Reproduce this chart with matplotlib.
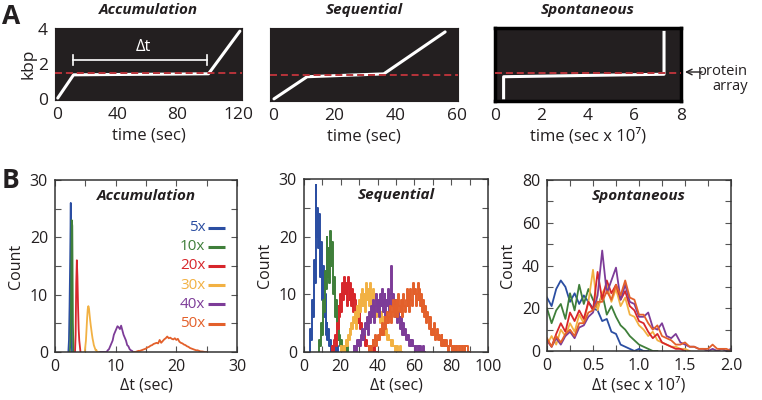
import numpy as np
import matplotlib
matplotlib.use('Agg')
import matplotlib.pyplot as plt
from matplotlib.ticker import MultipleLocator

plt.rcParams['font.family'] = ['Open Sans', 'DejaVu Sans']

# ---------------- Panel A: example traces ----------------
acc_t = [0.5, 11.0, 100.5, 121.3]
acc_k = [0.05, 1.38, 1.44, 3.88]
acc_protein = 1.50
acc_dt = [10.4, 99.8]

seq_t = [0.3, 11.1, 36.1, 56.1]
seq_k = [0.06, 1.31, 1.47, 3.84]
seq_protein = 1.40

spo_t = [0.37, 0.37, 7.27, 7.27]
spo_k = [0.03, 1.31, 1.45, 3.90]
spo_protein = 1.53

# ---------------- Panel B: histograms ----------------
labels = ['5x', '10x', '20x', '30x', '40x', '50x']
colors = ['#2b4ea2', '#3f7f3a', '#d7262b', '#f2b143', '#7d3c98', '#e3602b']

# Accumulation (start, step, counts)
acc_start = [2.2, 2.45, 3.3, 4.9, 7.5, 13.0]
acc_step = [0.1, 0.1, 0.1, 0.1, 0.2, 0.25]
acc_5x = [0, 2, 8, 16, 26, 7, 0]
acc_10x = [0, 2, 9, 23, 22, 5, 0]
acc_20x = [0, 3, 12, 16, 13, 8, 4, 2, 1, 0]
acc_30x = [0, 1, 2, 4, 6, 7.5, 8, 7.6, 6.5, 5.5, 4.6, 3.8, 3, 2.3, 1.8, 1.2, 0.9, 0.6, 0.3, 0.4, 0.1, 0, 0, 0, 0]
acc_40x = [0, 0, 0, 0, 0, 0, 0.3, 0.5, 1, 1.5, 2, 3, 3.5, 4, 4.5, 4.3, 4, 4.6, 3.8, 3, 2.5, 2, 1.2, 1, 0.5, 0.3, 0.2, 0, 0, 0, 0]
acc_50x = [0, 0, 0.1, 0.2, 0.2, 0.3, 0.4, 0.5, 0.6, 0.8, 0.9, 1.1, 1.2, 1.4, 1.5, 1.6, 1.5, 2.1,
           1.6, 1.9, 2.2, 2.4, 2.7, 2.4, 2.5, 2.3, 2.2, 2.4, 2.1, 2.3, 1.8, 1.6, 1.5, 1.3, 1.2, 1.0,
           0.9, 0.7, 0.6, 0.5, 0.4, 0.3, 0.3, 0.2, 0.1, 0.1, 0.05, 0, 0]

# Sequential (bin width 0.5 s)
seq_step = 0.5
seq_start = [3.0, 8.0, 15.0, 20.0, 27.0, 35.0]
seq_5x = [0, 4, 2, 9, 6, 16, 12, 29, 20, 25, 18, 24, 13, 19, 9, 15, 6, 10, 3, 5, 2, 4, 1, 2,
          0, 1, 0, 1, 0, 0, 1, 0]
seq_10x = [0, 2, 1, 5, 3, 9, 7, 14, 11, 20, 13, 18, 12, 21, 15, 19, 10, 13, 6, 9, 4, 6, 2, 3,
           1, 2, 0, 1, 0, 1, 0, 1, 0]
seq_20x = [0, 1, 0, 2, 3, 1, 5, 4, 8, 6, 10, 7, 12, 9, 13, 10, 12, 8, 13, 11, 9, 12, 8, 11, 7,
           10, 9, 6, 8, 5, 7, 4, 5, 3, 4, 2, 3, 1, 2, 1, 1, 0, 1, 0, 1, 0, 0, 1, 0, 0, 0]
seq_30x = [1, 0, 0, 1, 0, 1, 2, 1, 3, 2, 4, 3, 5, 4, 6, 5, 7, 4, 8, 6, 9, 7, 10, 8, 11, 8, 10,
           7, 12, 9, 11, 8, 12, 7, 10, 9, 11, 8, 10, 6, 9, 7, 8, 5, 7, 4, 6, 3, 5, 3, 4, 2, 3, 2,
           2, 1, 2, 1, 1, 0, 1, 0, 1, 0, 0, 1, 0]
seq_40x = [1, 0, 1, 0, 2, 1, 2, 1, 3, 2, 4, 2, 3, 5, 4, 6, 3, 7, 5, 8, 6, 7, 9, 5, 8, 10, 7, 9,
           6, 10, 8, 11, 7, 9, 10, 6, 9, 8, 11, 7, 10, 15, 8, 10, 7, 9, 6, 8, 5, 7, 6, 4, 6, 3, 5,
           3, 4, 2, 3, 2, 3, 1, 2, 1, 2, 1, 1, 0, 1, 1, 0, 1, 0, 1, 0, 0, 1, 0]
seq_50x = [1, 0, 1, 0, 1, 2, 1, 2, 3, 1, 2, 3, 2, 4, 3, 5, 3, 4, 6, 4, 5, 7, 5, 6, 8, 5, 7, 9,
           6, 8, 7, 9, 6, 10, 8, 7, 9, 6, 10, 8, 7, 9, 11, 8, 10, 7, 11, 9, 8, 12, 10, 11, 8, 10,
           12, 9, 11, 8, 10, 7, 9, 6, 8, 5, 7, 6, 4, 6, 5, 3, 4, 3, 5, 2, 3, 4, 2, 3, 2, 1, 3, 2,
           1, 2, 1, 2, 1, 0, 1, 2, 1, 0, 1, 0, 0, 1, 0, 1, 1, 0, 1, 1, 0, 1, 1, 0, 1, 1, 1, 0, 0]

# Spontaneous (bin width 0.05 x 10^7 s, starting at 0)
spo_step = 0.05
spo_5x = [25, 21, 29, 33, 30, 23, 27, 22, 26, 23, 20, 19, 14, 15, 9, 8, 3, 2, 1, 0, 1, 0, 0]
spo_10x = [20, 13, 19, 22, 15, 27, 19, 31, 22, 29, 24, 20, 27, 17, 21, 16, 12, 10, 7, 5, 3, 2,
           1, 0, 0]
spo_20x = [5, 2, 8, 13, 9, 18, 14, 19, 15, 23, 19, 37, 24, 33, 27, 31, 24, 28, 21, 19, 14, 13,
           9, 6, 8, 4, 3, 2, 1, 1, 0]
spo_30x = [3, 7, 3, 10, 7, 13, 9, 17, 13, 23, 38, 19, 27, 31, 23, 29, 21, 25, 17, 16, 12, 10, 7,
           9, 5, 4, 3, 2, 2, 1, 1, 0]
spo_40x = [5, 2, 6, 3, 7, 9, 6, 11, 12, 16, 18, 26, 47, 27, 33, 39, 24, 31, 23, 22, 16, 16, 18,
           11, 10, 13, 7, 6, 8, 4, 3, 2, 2, 1, 1, 0, 1, 0, 1, 0, 1]
spo_50x = [6, 2, 7, 4, 8, 10, 7, 13, 13, 18, 19, 23, 23, 28, 24, 31, 26, 33, 25, 24, 17, 17, 13,
           10, 12, 7, 6, 5, 3, 3, 4, 2, 2, 1, 1, 1, 3, 1, 1, 1, 0]

# ---------------- Figure ----------------
W, H = 762, 400
fig = plt.figure(figsize=(W / 100, H / 100), dpi=100)


def ax_px(x0, y0, x1, y1):
    return fig.add_axes([x0 / W, 1 - y1 / H, (x1 - x0) / W, (y1 - y0) / H])


DARK = '#231f20'
RED = '#b8333a'
TXT = '#231f20'


def style_a(ax, xlim, xticks, show_y):
    ax.set_facecolor(DARK)
    ax.set_xlim(*xlim)
    ax.set_ylim(-0.06, 4.06)
    ax.set_xticks(xticks)
    ax.tick_params(length=0, labelsize=12.5, pad=5, colors=TXT)
    if show_y:
        ax.set_yticks([0, 2, 4])
    else:
        ax.set_yticks([])
    for s in ax.spines.values():
        s.set_color(DARK)


# A1 accumulation
a1 = ax_px(55, 28, 242, 100)
style_a(a1, (-1.3, 122.7), [0, 40, 80, 120], True)
a1.plot(acc_t, acc_k, color='white', lw=2.2, solid_capstyle='round', zorder=2)
a1.axhline(acc_protein, color=RED, lw=1.4, dashes=(3.6, 2.0), zorder=3)
a1.plot(acc_dt, [2.23, 2.23], color='white', lw=1.2)
for xx in acc_dt:
    a1.plot([xx, xx], [1.94, 2.52], color='white', lw=1.2)
a1.text(np.mean(acc_dt) + 2, 3.0, 'Δt', color='white', fontsize=12, ha='center', va='center')
a1.set_ylabel('kbp', fontsize=12.5, labelpad=1, color=TXT)
a1.set_xlabel('time (sec)', fontsize=12, labelpad=3, color=TXT)

# A2 sequential
a2 = ax_px(270, 28, 458, 101)
style_a(a2, (-1.0, 60.3), [0, 20, 40, 60], False)
a2.plot(seq_t, seq_k, color='white', lw=2.2, solid_capstyle='round', zorder=2)
a2.axhline(seq_protein, color=RED, lw=1.4, dashes=(3.6, 2.0), zorder=3)
a2.set_xlabel('time (sec)', fontsize=12, labelpad=3, color=TXT)

# A3 spontaneous
a3 = ax_px(495, 28, 681, 101)
style_a(a3, (0.0, 8.0), [0, 2, 4, 6, 8], False)
a3.plot(spo_t, spo_k, color='white', lw=2.2, solid_capstyle='butt', zorder=2)
a3.axhline(spo_protein, color=RED, lw=1.4, dashes=(3.6, 2.0), zorder=3)
for s in a3.spines.values():
    s.set_color('black')
    s.set_linewidth(2.5)
a3.set_xlabel('time (sec x 10⁷)', fontsize=12, labelpad=3, color=TXT)

# panel titles A
for ax, t in [(a1, 'Accumulation'), (a2, 'Sequential'), (a3, 'Spontaneous')]:
    bb = ax.get_position()
    fig.text((bb.x0 + bb.x1) / 2, 1 - 10 / H, t, fontsize=11, fontweight='bold',
             style='italic', ha='center', va='center', color=TXT)

# protein array annotation
a3.annotate('', xy=(685 / W, 1 - 72 / H), xytext=(702 / W, 1 - 72 / H),
            xycoords='figure fraction', textcoords='figure fraction', annotation_clip=False,
            arrowprops=dict(arrowstyle='->', color=TXT, lw=1.0, shrinkA=0, shrinkB=0))
fig.text(748 / W, 1 - 79 / H, 'protein\narray', fontsize=10.5, ha='right', va='center',
         multialignment='right', color=TXT, linespacing=1.05)

fig.text(2 / W, 1 - 17 / H, 'A', fontsize=19, fontweight='bold', ha='left', va='center', color=TXT)
fig.text(2 / W, 1 - 181 / H, 'B', fontsize=19, fontweight='bold', ha='left', va='center', color=TXT)


def style_b(ax, xlim, ylim, xmaj, xmin, ymaj, ymin, title):
    ax.set_xlim(*xlim)
    ax.set_ylim(*ylim)
    ax.xaxis.set_major_locator(MultipleLocator(xmaj))
    ax.xaxis.set_minor_locator(MultipleLocator(xmin))
    ax.yaxis.set_major_locator(MultipleLocator(ymaj))
    ax.yaxis.set_minor_locator(MultipleLocator(ymin))
    ax.tick_params(which='both', direction='in', top=True, right=True, colors='#555555',
                   labelcolor=TXT, labelsize=11.5)
    ax.tick_params(which='major', length=4, width=0.8, pad=5)
    ax.tick_params(which='minor', length=4, width=0.8)
    for s in ax.spines.values():
        s.set_color('#333333')
        s.set_linewidth(1.1)
    ax.text(0.5, 0.905, title, transform=ax.transAxes, fontsize=11, fontweight='bold',
            style='italic', ha='center', va='center', color=TXT, zorder=5)
    ax.set_ylabel('Count', fontsize=11.5, labelpad=4, color=TXT)


# B1
b1 = ax_px(55, 180, 237, 352)
acc_sets = [acc_5x, acc_10x, acc_20x, acc_30x, acc_40x, acc_50x]
for i, c in enumerate(acc_sets):
    x = acc_start[i] + acc_step[i] * np.arange(len(c))
    b1.plot(x, c, color=colors[i], lw=1.3)
style_b(b1, (0, 30), (0, 30), 10, 5, 10, 5, 'Accumulation')
b1.set_xlabel('Δt (sec)', fontsize=11.5, labelpad=2, color=TXT)
# legend: coloured label text followed by a short line
for i, lab in enumerate(labels):
    yf = (352 - (227.5 + 19.2 * i)) / 172
    b1.text(0.826, yf, lab, transform=b1.transAxes, color=colors[i], fontsize=11,
            ha='right', va='center')
    b1.plot([0.838, 0.934], [yf, yf], transform=b1.transAxes, color=colors[i], lw=2.2,
            solid_capstyle='butt')

# B2
b2 = ax_px(304, 179, 488, 352)
seq_sets = [seq_5x, seq_10x, seq_20x, seq_30x, seq_40x, seq_50x]
for i, c in enumerate(seq_sets):
    x = seq_start[i] + seq_step * np.arange(len(c))
    b2.plot(x, c, color=colors[i], lw=1.4, drawstyle='steps-mid')
style_b(b2, (0, 100), (0, 30), 20, 10, 10, 5, 'Sequential')
b2.set_xlabel('Δt (sec)', fontsize=11.5, labelpad=2, color=TXT)

# B3
b3 = ax_px(547, 180, 731, 351)
spo_sets = [spo_5x, spo_10x, spo_30x, spo_20x, spo_40x, spo_50x]
spo_cols = [colors[0], colors[1], colors[3], colors[2], colors[4], colors[5]]
for c, col in zip(spo_sets, spo_cols):
    x = spo_step * np.arange(len(c))
    b3.plot(x, c, color=col, lw=1.3)
style_b(b3, (0, 2.0), (0, 80), 0.5, 0.25, 20, 10, 'Spontaneous')
b3.set_xticks([0, 0.5, 1.0, 1.5, 2.0])
b3.set_xticklabels(['0', '0.5', '1.0', '1.5', '2.0'])
b3.set_xlabel('Δt (sec x 10⁷)', fontsize=11.5, labelpad=2, color=TXT)

fig.savefig('out.png', dpi=100)
